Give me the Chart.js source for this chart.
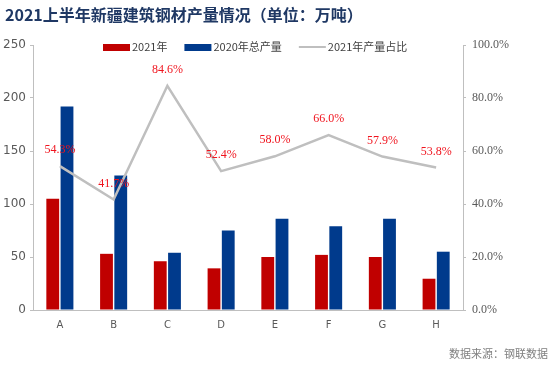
<!DOCTYPE html>
<html>
<head>
<meta charset="utf-8">
<script src="https://cdn.jsdelivr.net/npm/chart.js@4/dist/chart.umd.min.js"></script>
<style>
  html, body { margin: 0; padding: 0; background: #fff; }
  #wrap { position: relative; width: 554px; height: 365px; }
</style>
</head>
<body>
<div id="wrap"><canvas id="steelChart" width="554" height="365"></canvas></div>
<script>
  const TITLE      = '2021上半年新疆建筑钢材产量情况（单位：万吨）';
  const SOURCE     = '数据来源：钢联数据';
  const CATEGORIES = ['A', 'B', 'C', 'D', 'E', 'F', 'G', 'H'];
  const OUTPUT2021 = [105, 53, 46, 39.3, 50, 52, 50, 29.5];
  const TOTAL2020  = [192, 127, 54, 75, 86, 79, 86, 55];
  const SHARE2021  = [54.3, 41.7, 84.6, 52.4, 58.0, 66.0, 57.9, 53.8];
  const LEFT_TICKS  = [0, 50, 100, 150, 200, 250];
  const RIGHT_TICKS = [0, 20, 40, 60, 80, 100];

  const RED   = '#c00000';
  const BLUE  = '#003a8c';
  const GREY  = '#bfbfbf';
  const AXIS  = '#595959';
  const LABEL = '#f0141e';

  // title, legend, point labels and source note
  const decor = {
    id: 'decor',
    afterDatasetsDraw(chart) {
      const ctx = chart.ctx;
      ctx.save();

      ctx.fillStyle = '#1f3864';
      ctx.font = "bold 16px 'Noto Sans CJK SC', sans-serif";
      ctx.textBaseline = 'middle';
      ctx.textAlign = 'left';
      ctx.fillText(TITLE, 5, 15);

      // legend
      let x = 103;
      const y = 47;
      ctx.font = "11px 'Noto Sans CJK SC', sans-serif";
      chart.data.datasets.forEach(function (ds) {
        if (ds.type === 'line') {
          ctx.strokeStyle = ds.borderColor;
          ctx.lineWidth = 2;
          ctx.beginPath();
          ctx.moveTo(x, y);
          ctx.lineTo(x + 27, y);
          ctx.stroke();
        } else {
          ctx.fillStyle = ds.backgroundColor;
          ctx.fillRect(x, y - 3, 27, 7);
        }
        ctx.fillStyle = '#404040';
        ctx.fillText(ds.label, x + 29, y);
        x += 29 + ctx.measureText(ds.label).width + 17;
      });

      // share labels
      const meta = chart.getDatasetMeta(2);
      ctx.fillStyle = LABEL;
      ctx.font = "12px 'Liberation Serif', serif";
      ctx.textAlign = 'center';
      meta.data.forEach(function (pt, i) {
        ctx.fillText(SHARE2021[i].toFixed(1) + '%', pt.x, pt.y - 16);
      });

      ctx.fillStyle = '#7f7f7f';
      ctx.font = "11px 'Noto Sans CJK SC', sans-serif";
      ctx.textAlign = 'right';
      ctx.fillText(SOURCE, 548, 354);
      ctx.restore();
    }
  };

  new Chart(document.getElementById('steelChart'), {
    data: {
      labels: CATEGORIES,
      datasets: [{
        type: 'bar',
        label: '2021年',
        data: OUTPUT2021,
        backgroundColor: RED,
        yAxisID: 'y',
        categoryPercentage: 0.53,
        barPercentage: 0.9,
        order: 2
      }, {
        type: 'bar',
        label: '2020年总产量',
        data: TOTAL2020,
        backgroundColor: BLUE,
        yAxisID: 'y',
        categoryPercentage: 0.53,
        barPercentage: 0.9,
        order: 2
      }, {
        type: 'line',
        label: '2021年产量占比',
        data: SHARE2021,
        borderColor: GREY,
        backgroundColor: GREY,
        borderWidth: 2.5,
        pointRadius: 0,
        tension: 0,
        yAxisID: 'y1',
        order: 1
      }]
    },
    options: {
      responsive: false,
      animation: false,
      layout: { padding: { top: 45, bottom: 25, left: 0, right: 0 } },
      plugins: {
        legend: { display: false },
        tooltip: { enabled: false }
      },
      scales: {
        x: {
          grid: { display: false },
          border: { color: GREY },
          ticks: { color: AXIS, font: { size: 10, family: "'DejaVu Sans', sans-serif" }, padding: 1 },
          afterFit: function (s) { s.height = 30; }
        },
        y: {
          position: 'left',
          min: 0,
          max: 250,
          afterBuildTicks: function (s) { s.ticks = LEFT_TICKS.map(function (v) { return { value: v }; }); },
          grid: { drawOnChartArea: false, tickLength: 3, color: GREY },
          border: { color: GREY },
          ticks: { color: AXIS, font: { size: 12, family: "'DejaVu Sans', sans-serif" }, padding: 4 },
          afterFit: function (s) { s.width = 33; }
        },
        y1: {
          position: 'right',
          min: 0,
          max: 100,
          afterBuildTicks: function (s) { s.ticks = RIGHT_TICKS.map(function (v) { return { value: v }; }); },
          grid: { drawOnChartArea: false, tickLength: 3, color: GREY },
          border: { color: GREY },
          ticks: {
            color: AXIS,
            font: { size: 12, family: "'Liberation Serif', serif" },
            padding: 6,
            callback: function (v) { return v.toFixed(1) + '%'; }
          },
          afterFit: function (s) { s.width = 91; }
        }
      }
    },
    plugins: [decor]
  });
</script>
</body>
</html>
